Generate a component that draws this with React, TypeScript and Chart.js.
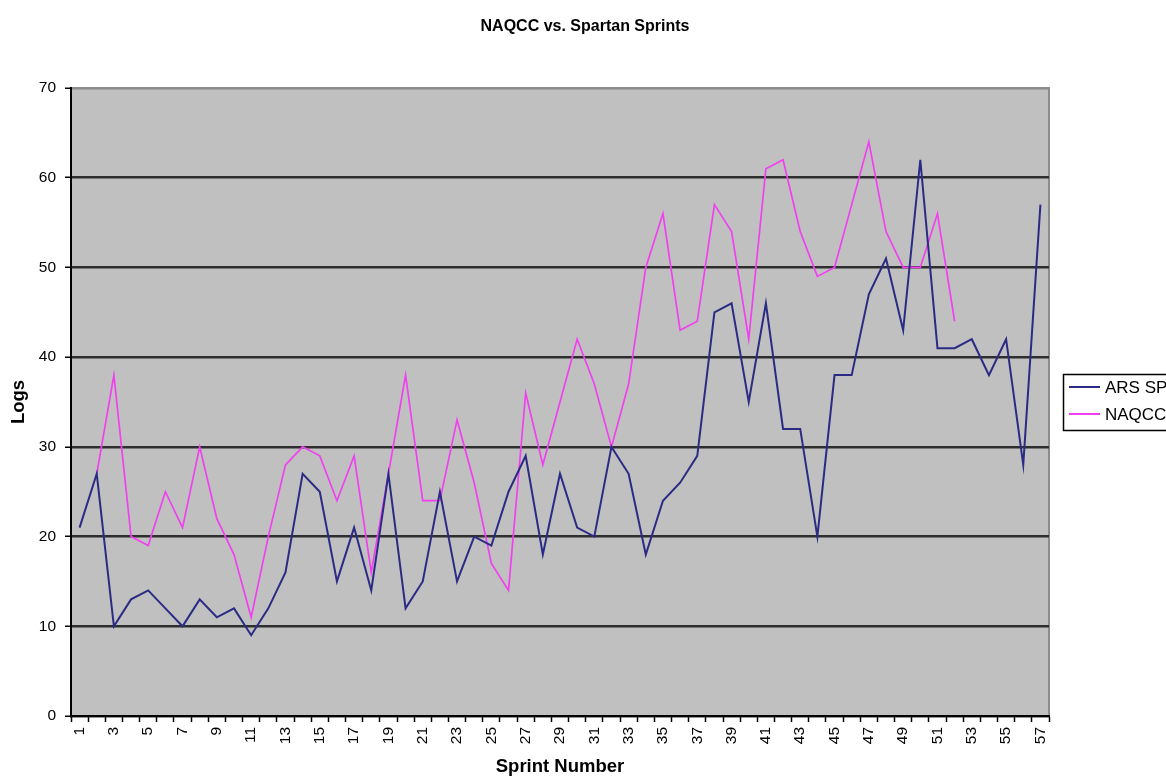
import { useEffect, useRef } from 'react';
import { Chart, registerables } from 'chart.js';

Chart.register(...registerables);

const categories = [
  '1', '2', '3', '4', '5', '6', '7', '8', '9', '10',
  '11', '12', '13', '14', '15', '16', '17', '18', '19', '20',
  '21', '22', '23', '24', '25', '26', '27', '28', '29', '30',
  '31', '32', '33', '34', '35', '36', '37', '38', '39', '40',
  '41', '42', '43', '44', '45', '46', '47', '48', '49', '50',
  '51', '52', '53', '54', '55', '56', '57',
];

const arsSprint = [
  21, 27, 10, 13, 14, 12, 10, 13, 11, 12,
  9, 12, 16, 27, 25, 15, 21, 14, 27, 12,
  15, 25, 15, 20, 19, 25, 29, 18, 27, 21,
  20, 30, 27, 18, 24, 26, 29, 45, 46, 35,
  46, 32, 32, 20, 38, 38, 47, 51, 43, 62,
  41, 41, 42, 38, 42, 28, 57,
];

const naqccSprint = [
  null, 27, 38, 20, 19, 25, 21, 30, 22, 18,
  11, 20, 28, 30, 29, 24, 29, 16, 27, 38,
  24, 24, 33, 26, 17, 14, 36, 28, 35, 42,
  37, 30, 37, 50, 56, 43, 44, 57, 54, 42,
  61, 62, 54, 49, 50, 57, 64, 54, 50, 50,
  56, 44, null, null, null, null, null,
];

const seriesLabels = ['ARS SPRINT', 'NAQCC SPRINT'];
const yMin = 0;
const yMax = 70;
const yStep = 10;

const TITLE = 'NAQCC vs. Spartan Sprints';
const X_TITLE = 'Sprint Number';
const Y_TITLE = 'Logs';
const FONT = '"Liberation Sans", Arial, Helvetica, sans-serif';

const W = 1166;
const H = 778;

const decor = {
  id: 'decor',
  beforeDraw(chart: any) {
    const { ctx, chartArea: a } = chart;
    ctx.save();
    ctx.fillStyle = '#c0c0c0';
    ctx.fillRect(a.left, a.top, a.right - a.left, a.bottom - a.top);
    ctx.strokeStyle = '#8c8c8c';
    ctx.lineWidth = 2;
    ctx.beginPath();
    ctx.moveTo(a.left, a.top);
    ctx.lineTo(a.right, a.top);
    ctx.lineTo(a.right, a.bottom);
    ctx.stroke();
    ctx.restore();
  },
  afterDraw(chart: any) {
    const { ctx, chartArea: a } = chart;
    ctx.save();
    ctx.fillStyle = '#000';
    ctx.textAlign = 'center';
    ctx.textBaseline = 'middle';
    ctx.font = `bold 16px ${FONT}`;
    ctx.fillText(TITLE, 585, 27);
    ctx.font = `bold 18.5px ${FONT}`;
    ctx.fillText(X_TITLE, (a.left + a.right) / 2, 767);
    ctx.save();
    ctx.translate(18.5, (a.top + a.bottom) / 2);
    ctx.rotate(-Math.PI / 2);
    ctx.fillText(Y_TITLE, 0, 0);
    ctx.restore();

    // legend
    const bx = 1063.5;
    const by = 374.5;
    ctx.fillStyle = '#ffffff';
    ctx.fillRect(bx, by, 200, 56);
    ctx.strokeStyle = '#000';
    ctx.lineWidth = 1.5;
    ctx.strokeRect(bx, by, 200, 56);
    ctx.font = `17px ${FONT}`;
    ctx.textAlign = 'left';
    chart.data.datasets.forEach((ds: any, i: number) => {
      const y = 387 + i * 27;
      ctx.strokeStyle = ds.borderColor;
      ctx.lineWidth = 2;
      ctx.beginPath();
      ctx.moveTo(1069, y);
      ctx.lineTo(1100, y);
      ctx.stroke();
      ctx.fillStyle = '#000';
      ctx.fillText(ds.label, 1105, y + 1);
    });
    ctx.restore();
  },
};

export default function App() {
  const ref = useRef<HTMLCanvasElement | null>(null);

  useEffect(() => {
    if (!ref.current) return;
    const chart = new Chart(ref.current, {
      type: 'line',
      data: {
        labels: categories,
        datasets: [
          {
            label: seriesLabels[0],
            data: arsSprint,
            borderColor: '#2b2b85',
            borderWidth: 2,
            pointRadius: 0,
            tension: 0,
            fill: false,
          },
          {
            label: seriesLabels[1],
            data: naqccSprint,
            borderColor: '#f040f0',
            borderWidth: 1.7,
            pointRadius: 0,
            tension: 0,
            fill: false,
          },
        ],
      },
      options: {
        responsive: false,
        animation: false,
        devicePixelRatio: 1,
        layout: { padding: { top: 88, right: W - 1049, left: 0, bottom: 0 } },
        plugins: {
          legend: { display: false },
          title: { display: false },
          tooltip: { enabled: false },
        },
        scales: {
          x: {
            type: 'category',
            offset: true,
            afterFit: (s: any) => { s.height = H - 716; },
            grid: {
              display: true,
              offset: true,
              drawOnChartArea: false,
              drawTicks: true,
              tickLength: 6,
              tickColor: '#000',
              tickWidth: 1.5,
            },
            border: { display: true, color: '#000', width: 2 },
            ticks: {
              autoSkip: false,
              maxRotation: 90,
              minRotation: 90,
              padding: 5,
              color: '#000',
              font: { family: FONT, size: 15.5 },
              callback: (_v: any, idx: number) => (idx % 2 === 0 ? categories[idx] : ''),
            },
          },
          y: {
            min: yMin,
            max: yMax,
            afterFit: (s: any) => { s.width = 71; },
            grid: {
              color: (c: any) => (c.tick && c.tick.value === yMax ? '#8c8c8c' : '#2e2e2e'),
              lineWidth: 2.5,
              drawTicks: true,
              tickLength: 6,
              tickColor: '#000',
              tickWidth: 1.5,
            },
            border: { display: true, color: '#000', width: 2 },
            ticks: {
              stepSize: yStep,
              padding: 9,
              color: '#000',
              font: { family: FONT, size: 15.5 },
            },
          },
        },
      },
      plugins: [decor],
    });
    return () => chart.destroy();
  }, []);

  return (
    <div style={{ position: 'absolute', left: 0, top: 0, width: W, height: H, background: '#fff' }}>
      <canvas ref={ref} width={W} height={H} style={{ display: 'block', width: W, height: H }} />
    </div>
  );
}
